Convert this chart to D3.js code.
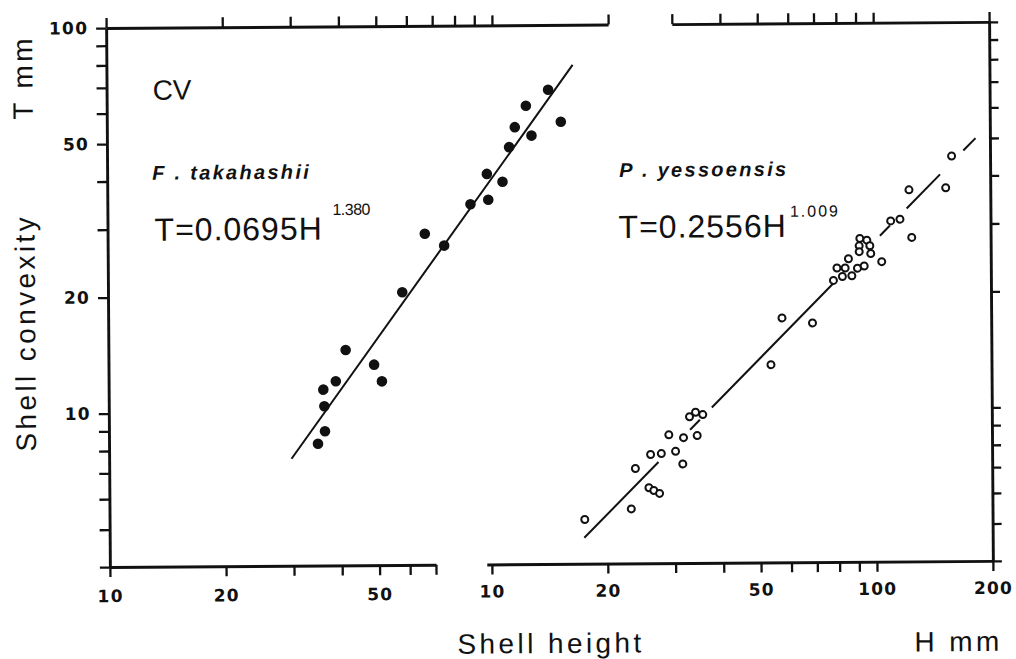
<!DOCTYPE html>
<html>
<head>
<meta charset="utf-8">
<script src="https://cdn.jsdelivr.net/npm/d3@7"></script>
<style>
  body { margin: 0; background: #fff; }
  svg text { font-family: "Liberation Sans", Arial, sans-serif; fill: #111; }
  .axis path.domain { stroke: #111; stroke-width: 2.9; }
  .axis .tick line { stroke: #111; stroke-width: 2.3; }
  .axis .tick text { font-family: "DejaVu Sans", sans-serif; font-weight: bold; font-size: 17px; letter-spacing: 1.2px; }
  .title { font-size: 28px; letter-spacing: 3.4px; }
  .species { font-size: 20px; font-weight: bold; font-style: italic; letter-spacing: 2.3px; }
  .eq { font-size: 32px; letter-spacing: 1px; }
  .sup { font-size: 16px; }
</style>
</head>
<body>
<div id="chart"></div>
<script>
let svgWidth = 1016;
let svgHeight = 659;

// F. takahashii, shell height H (mm) and shell convexity T (mm)
let takaH = [34.8, 36.3, 36.2, 36.0, 38.8, 41.2, 48.8, 51.1, 57.9, 66.4, 74.5,
  87.3, 97.1, 96.4, 105.8, 110.2, 114.1, 126.0, 122.0, 139.4, 150.2];
let takaT = [8.28, 8.92, 10.36, 11.44, 12.02, 14.48, 13.25, 11.99, 20.4, 28.9, 26.9,
  34.4, 35.3, 41.2, 39.3, 48.3, 54.4, 51.7, 61.8, 67.9, 56.1];

// P. yessoensis
let yessoH = [17.46, 23.07, 23.68, 25.66, 26.42, 27.34, 25.95, 27.67, 28.96, 30.13,
  31.45, 31.62, 34.31, 32.8, 34.01, 35.51, 53.5, 57.26, 68.7, 78.0,
  79.7, 83.7, 85.4, 82.3, 87.1, 90.1, 93.8, 91.5, 95.4, 91.1,
  97.1, 91.1, 97.6, 104.2, 110.1, 116.4, 124.8, 123.0, 153.2, 158.9];
let yessoT = [5.21, 5.54, 7.05, 6.28, 6.18, 6.07, 7.66, 7.70, 8.61, 7.80,
  7.23, 8.46, 8.56, 9.58, 9.84, 9.70, 13.03, 17.22, 16.69, 21.5,
  23.15, 23.14, 24.45, 22.0, 22.09, 23.1, 23.4, 27.6, 27.3, 26.4,
  26.4, 25.5, 25.2, 24.0, 30.6, 30.9, 27.7, 36.8, 37.2, 44.96];

// fitted lines, end points [H, T]
let takaFitEnds = [[29.7, 7.58], [161.5, 78.7]];
let yessoFitEnds = [[17.4, 4.67], [183.5, 50.0]];
// visible pieces of the broken P. yessoensis line (H ranges)
let yessoFitPieces = [[17.4, 27.2], [32.9, 34.9], [37.5, 79.5], [103.2, 109.6], [121.2, 148.2], [170.5, 183.5]];

// ticks
let yTicks = [4, 5, 6, 7, 8, 9, 10, 20, 30, 40, 50, 60, 70, 80, 90, 100];
let yLabels = [10, 20, 50, 100];
let xTicksLeftBottom = [10, 20, 30, 40, 50, 60, 70];
let xTicksLeftTop = [10, 20, 30, 40, 50, 60, 70, 80, 90, 100, 200];
let xTicksRightBottom = [10, 20, 30, 40, 50, 60, 70, 80, 90, 100, 200];
let xTicksRightTop = [30, 40, 50, 60, 70, 80, 90, 100, 200];
let xLabels = [10, 20, 50, 100, 200];
let rightBottomStart = 9.7;

let svg = d3.select('#chart')
  .append('svg')
  .attr('width', svgWidth)
  .attr('height', svgHeight);

svg.append('rect').attr('width', svgWidth).attr('height', svgHeight).attr('fill', '#fff');

// the scanned figure sits slightly tilted
let g = svg.append('g')
  .attr('transform', 'rotate(-0.4, 548, 295)');

// scales (log-log)
let y = d3.scaleLog().domain([4, 100]).range([564, 25]);
let xL = d3.scaleLog().domain([10, 200]).range([108, 610]);
let xR = d3.scaleLog().domain([10, 200]).range([490, 991]);

let lbl = d => xLabels.includes(d) ? d : '';
let ylbl = d => yLabels.includes(d) ? d : '';

// left axis
g.append('g')
  .classed('axis', true)
  .attr('transform', `translate(${xL(10)}, 0)`)
  .call(d3.axisLeft(y).tickValues(yTicks).tickSize(10).tickSizeOuter(0).tickPadding(8).tickFormat(ylbl));

// right axis
g.append('g')
  .classed('axis', true)
  .attr('transform', `translate(${xR(200)}, 0)`)
  .call(d3.axisRight(y).tickValues(yTicks).tickSize(9).tickSizeOuter(0).tickFormat(''));

// top axes
g.append('g')
  .classed('axis', true)
  .attr('transform', `translate(0, ${y(100)})`)
  .call(d3.axisTop(xL).tickValues(xTicksLeftTop).tickSize(10).tickSizeOuter(0).tickFormat(''));

let xRTop = xR.copy().domain([30, 200]).range([xR(30), xR(200)]);
g.append('g')
  .classed('axis', true)
  .attr('transform', `translate(0, ${y(100)})`)
  .call(d3.axisTop(xRTop).tickValues(xTicksRightTop).tickSize(10).tickSizeOuter(0).tickFormat(''));

// bottom axes (broken between the two panels)
let xLBottom = xL.copy().domain([10, 70]).range([xL(10), xL(70)]);
g.append('g')
  .classed('axis', true)
  .attr('transform', `translate(0, ${y(4)})`)
  .call(d3.axisBottom(xLBottom).tickValues(xTicksLeftBottom).tickSize(10).tickSizeOuter(0).tickPadding(13).tickFormat(lbl));

let xRBottom = xR.copy().domain([rightBottomStart, 200]).range([xR(rightBottomStart), xR(200)]);
g.append('g')
  .classed('axis', true)
  .attr('transform', `translate(0, ${y(4)})`)
  .call(d3.axisBottom(xRBottom).tickValues(xTicksRightBottom).tickSize(10).tickSizeOuter(0).tickPadding(11).tickFormat(lbl));

// fit lines
let line = d3.line();

g.append('path')
  .attr('d', line(takaFitEnds.map(d => [xL(d[0]), y(d[1])])))
  .attr('stroke', '#111')
  .attr('stroke-width', 2)
  .attr('fill', 'none');

// point on the yessoensis line for a given H
function yessoLineT(h) {
  let [a, b] = yessoFitEnds;
  let t = (Math.log(h) - Math.log(a[0])) / (Math.log(b[0]) - Math.log(a[0]));
  return Math.exp(Math.log(a[1]) + t * (Math.log(b[1]) - Math.log(a[1])));
}

g.selectAll('.fitR')
  .data(yessoFitPieces)
  .enter()
  .append('path')
  .classed('fitR', true)
  .attr('d', d => line(d.map(h => [xR(h), y(yessoLineT(h))])))
  .attr('stroke', '#111')
  .attr('stroke-width', 2)
  .attr('fill', 'none');

// F. takahashii dots
g.selectAll('.taka')
  .data(takaH)
  .enter()
  .append('circle')
  .classed('taka', true)
  .attr('cx', d => xL(d))
  .attr('cy', (d, i) => y(takaT[i]))
  .attr('r', 5.3)
  .attr('fill', '#111');

// P. yessoensis circles
g.selectAll('.yesso')
  .data(yessoH)
  .enter()
  .append('circle')
  .classed('yesso', true)
  .attr('cx', d => xR(d))
  .attr('cy', (d, i) => y(yessoT[i]))
  .attr('r', 3.5)
  .attr('fill', '#fff')
  .attr('stroke', '#111')
  .attr('stroke-width', 2);

// texts inside the panels
g.append('text').attr('x', 154).attr('y', 97).attr('font-size', '28px').text('CV');

g.append('text').classed('species', true).attr('x', 153).attr('y', 177).text('F . takahashii');
g.append('text').classed('eq', true).attr('x', 155).attr('y', 238).text('T=0.0695H');
g.append('text').classed('sup', true).attr('x', 333).attr('y', 213.5).attr('letter-spacing', '-0.5px').text('1.380');

g.append('text').classed('species', true).attr('x', 620).attr('y', 177.5).attr('letter-spacing', '2.6px').text('P . yessoensis');
g.append('text').classed('eq', true).attr('x', 619).attr('y', 238.5).text('T=0.2556H');
g.append('text').classed('sup', true).attr('x', 790.5).attr('y', 218.5).attr('letter-spacing', '2px').text('1.009');

// axis titles
g.append('text').classed('title', true).attr('x', 455).attr('y', 653).text('Shell height');
g.append('text').classed('title', true).attr('x', 912).attr('y', 654).text('H mm');

g.append('text').classed('title', true)
  .attr('transform', 'translate(34, 116) rotate(-90)')
  .text('T mm');

g.append('text').classed('title', true)
  .attr('transform', 'translate(35, 448) rotate(-90)')
  .attr('letter-spacing', '4.8px')
  .text('Shell convexity');
</script>
</body>
</html>
